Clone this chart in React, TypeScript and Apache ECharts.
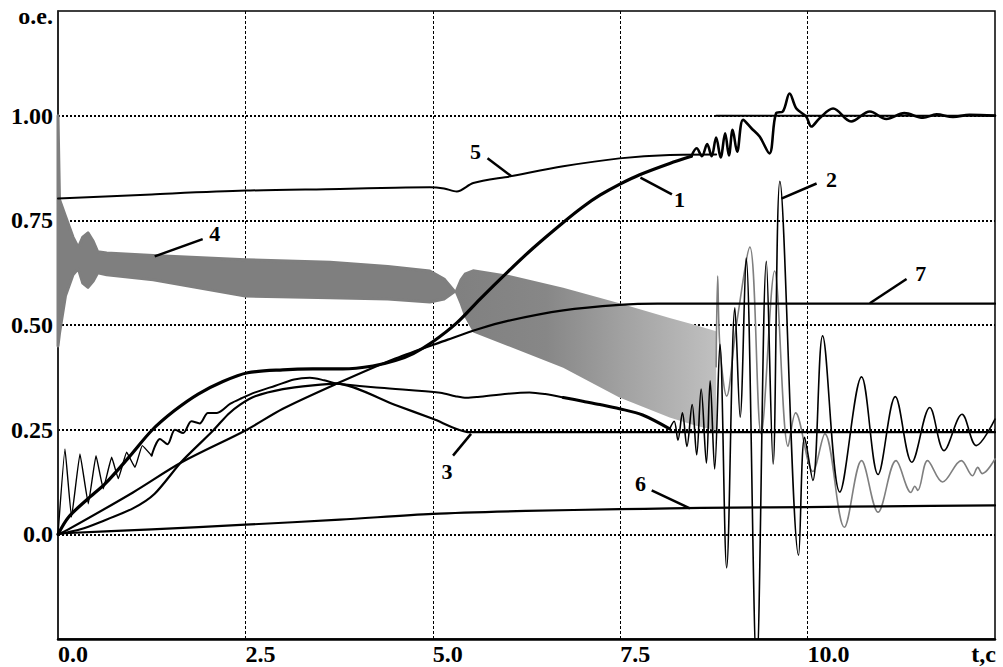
import React, { useEffect, useRef } from 'react';
import * as echarts from 'echarts';

type P = [number, number | null];

// ---- Curve 1 (thick black) ----
const curve1: P[] = [
  [0, 0], [0.14, 0.041], [0.4, 0.085], [0.63, 0.121], [0.95, 0.185], [1.25, 0.248], [1.55, 0.295],
  [1.87, 0.335], [2.2, 0.365], [2.53, 0.386], [3.0, 0.393], [3.4, 0.395], [3.8, 0.395], [4.2, 0.402],
  [4.5, 0.415], [4.74, 0.432], [5.0, 0.46], [5.32, 0.505], [5.63, 0.562], [6.0, 0.627], [6.34, 0.684],
  [6.74, 0.745], [7.0, 0.782], [7.23, 0.81], [7.49, 0.836], [7.76, 0.859], [8.16, 0.886], [8.45, 0.903],
  [8.52, 0.922], [8.59, 0.903], [8.66, 0.932], [8.72, 0.903], [8.78, 0.948], [8.84, 0.9], [8.9, 0.958],
  [8.95, 0.905], [9.0, 0.966], [9.06, 0.914], [9.14, 0.99], [9.25, 0.97], [9.36, 0.95], [9.49, 0.91],
  [9.58, 1.006], [9.67, 1.01], [9.76, 1.053], [9.85, 1.017], [9.98, 0.998], [10.05, 0.974], [10.16, 0.994],
  [10.34, 1.017], [10.58, 0.986], [10.83, 1.01], [11.05, 0.992], [11.29, 1.006], [11.54, 0.995],
  [11.72, 1.003], [11.94, 0.997], [12.16, 1.002], [12.5, 1.0],
];

// ---- Curve 2 (thin black, oscillating) ----
const curve2: P[] = [
  [0, 0], [0.093, 0.204], [0.18, 0.041], [0.293, 0.192], [0.404, 0.073], [0.507, 0.188], [0.604, 0.109],
  [0.716, 0.184], [0.804, 0.133], [0.916, 0.196], [1.027, 0.16], [1.124, 0.212], [1.249, 0.188],
  [1.36, 0.228], [1.46, 0.215], [1.56, 0.25], [1.67, 0.242], [1.78, 0.27], [1.89, 0.265], [2.0, 0.29],
  [2.12, 0.29], [2.3, 0.312], [2.45, 0.325], [2.63, 0.339], [2.9, 0.355], [3.15, 0.37], [3.36, 0.374],
  [3.55, 0.368], [3.72, 0.36], [4.3, 0.35], [5.1, 0.338], [5.3, 0.33], [5.45, 0.326], [5.6, 0.328],
  [6.0, 0.336], [6.29, 0.339], [6.5, 0.335], [6.74, 0.327], [7.0, 0.318], [7.23, 0.31], [7.49, 0.3],
  [7.8, 0.285], [8.16, 0.252], [8.22, 0.27], [8.27, 0.225], [8.33, 0.29], [8.39, 0.21], [8.46, 0.31],
  [8.52, 0.19], [8.58, 0.347], [8.65, 0.17], [8.7, 0.367], [8.76, 0.156], [8.83, 0.454], [8.92, -0.08],
  [9.03, 0.541], [9.1, 0.28], [9.18, 0.66], [9.32, -0.32], [9.45, 0.652], [9.54, 0.168], [9.63, 0.843],
  [9.88, -0.05], [9.96, 0.232], [10.07, 0.129], [10.2, 0.474], [10.43, 0.101], [10.72, 0.376],
  [10.94, 0.143], [11.17, 0.329], [11.39, 0.172], [11.63, 0.303], [11.82, 0.2], [12.06, 0.287],
  [12.25, 0.212], [12.5, 0.275],
];

// ---- Curve 3 ----
const curve3: P[] = [
  [0, 0], [0.3, 0.012], [0.56, 0.029], [1.0, 0.062], [1.29, 0.097], [1.65, 0.174], [2.07, 0.248],
  [2.27, 0.287], [2.43, 0.31], [2.63, 0.33], [3.0, 0.347], [3.4, 0.356], [3.72, 0.36], [4.5, 0.309],
  [5.0, 0.276], [5.49, 0.244], [7.0, 0.244], [12.5, 0.244],
];

// ---- Curve 4 (grey) : envelope of the fast oscillation, then single trace ----
const band1T = [0, 0.02, 0.1, 0.2, 0.27, 0.33, 0.4, 0.47, 0.53, 0.65, 1.27, 2.5, 3.63, 4.4, 4.96, 5.15, 5.29];
const band1Upper = [1.0, 0.8, 0.76, 0.71, 0.685, 0.71, 0.72, 0.7, 0.675, 0.672, 0.666, 0.656, 0.65, 0.64, 0.629, 0.61, 0.58];
const band1Lower = [0.45, 0.48, 0.57, 0.62, 0.635, 0.6, 0.59, 0.605, 0.625, 0.62, 0.608, 0.569, 0.565, 0.562, 0.555, 0.562, 0.58];

const band2T = [5.29, 5.36, 5.42, 5.54, 6.0, 6.74, 7.49, 8.16, 8.5, 8.78];
const band2Upper = [0.58, 0.61, 0.625, 0.633, 0.62, 0.589, 0.552, 0.517, 0.5, 0.485];
const band2Lower = [0.58, 0.55, 0.52, 0.482, 0.45, 0.398, 0.327, 0.279, 0.26, 0.248];

const curve4Tail: P[] = [
  [8.78, 0.4], [8.8, 0.617], [8.83, 0.45], [8.92, 0.33], [9.05, 0.5], [9.23, 0.686], [9.38, 0.24],
  [9.56, 0.629], [9.74, 0.21], [9.84, 0.29], [10.07, 0.15], [10.23, 0.24], [10.49, 0.017], [10.72, 0.176],
  [10.94, 0.053], [11.18, 0.176], [11.38, 0.1], [11.43, 0.115], [11.47, 0.105], [11.6, 0.176],
  [11.8, 0.125], [12.05, 0.176], [12.2, 0.14], [12.27, 0.16], [12.33, 0.145], [12.5, 0.18],
];

// ---- Curve 5 ----
const curve5: P[] = [
  [0, 0.802], [1.25, 0.812], [2.5, 0.821], [3.76, 0.825], [4.5, 0.828], [4.96, 0.829], [5.15, 0.826],
  [5.32, 0.819], [5.54, 0.839], [6.03, 0.855], [6.74, 0.879], [7.49, 0.898], [8.16, 0.906], [8.78, 0.907],
  [8.78, null], [8.78, 1.0], [12.5, 1.0],
];

// ---- Curve 6 ----
const curve6: P[] = [
  [0, 0.002], [1.25, 0.012], [2.5, 0.023], [3.76, 0.035], [5.0, 0.049], [6.25, 0.056], [7.5, 0.06],
  [8.16, 0.062], [9.0, 0.064], [10.0, 0.065], [11.0, 0.067], [12.5, 0.069],
];

// ---- Curve 7 ----
const curve7: P[] = [
  [0, 0], [0.12, 0.01], [1.0, 0.1], [1.65, 0.172], [2.5, 0.248], [3.0, 0.3], [3.72, 0.36], [4.5, 0.42],
  [5.2, 0.465], [5.6, 0.49], [6.0, 0.51], [6.74, 0.535], [7.49, 0.548], [8.0, 0.551], [12.5, 0.551],
];

// ---- Curve labels and their leader lines (data coordinates) ----
const labelNames = ['1', '2', '3', '4', '5', '6', '7'];
const labelPos: [number, number][] = [[8.29, 0.8], [10.32, 0.848], [5.19, 0.15], [2.09, 0.719], [5.57, 0.914], [7.77, 0.121], [11.51, 0.624]];
const pointerFrom: [number, number][] = [[7.77, 0.852], [9.65, 0.802], [5.27, 0.188], [1.29, 0.664], [5.73, 0.898], [7.92, 0.105], [11.32, 0.61]];
const pointerTo: [number, number][] = [[8.19, 0.812], [10.12, 0.838], [5.51, 0.24], [1.93, 0.705], [6.05, 0.855], [8.43, 0.062], [10.83, 0.552]];

const FONT = '"Liberation Serif", "Times New Roman", serif';
const GREY = '#7f7f7f';

function seg(data: P[], t0: number, t1: number): P[] {
  return data.filter(([t]) => t >= t0 - 1e-9 && t <= t1 + 1e-9);
}

function line(data: P[], width: number, color = '#000', smooth: number = 0.3, z = 3) {
  return {
    type: 'line',
    data,
    symbol: 'none',
    smooth,
    connectNulls: false,
    silent: true,
    z,
    lineStyle: { color, width, cap: 'round', join: 'round' },
  };
}

// band of the fast grey oscillation: polygon between upper and lower envelope
function band(t: number[], up: number[], lo: number[], fill: any, edge: number) {
  return {
    type: 'custom',
    silent: true,
    z: 1,
    data: t.map((x, i) => [x, up[i], lo[i]]),
    encode: { x: 0, y: [1, 2] },
    renderItem: (params: any, api: any) => {
      if (params.dataIndex !== 0) return null;
      const pts: number[][] = [];
      for (let i = 0; i < t.length; i++) pts.push(api.coord([t[i], up[i]]));
      for (let i = t.length - 1; i >= 0; i--) pts.push(api.coord([t[i], lo[i]]));
      return {
        type: 'polygon',
        shape: { points: pts },
        style: edge > 0 ? { fill, stroke: fill, lineWidth: edge, lineJoin: 'round' } : { fill, stroke: null },
      };
    },
  };
}

export default function App() {
  const ref = useRef<HTMLDivElement>(null);
  useEffect(() => {
    if (!ref.current) return;
    const chart = echarts.init(ref.current, null, { renderer: 'svg' });
    const labelStyle = { color: '#000', fontFamily: FONT, fontWeight: 'bold' as const, fontSize: 24 };
    const band2Fill = new echarts.graphic.LinearGradient(0, 0, 1, 0, [
      { offset: 0, color: '#808080' },
      { offset: 0.35, color: '#878787' },
      { offset: 0.65, color: '#a2a2a2' },
      { offset: 1, color: '#c0c0c0' },
    ]);
    const option: any = {
      animation: false,
      grid: { left: 58, right: 8, top: 11, bottom: 28, show: true, borderColor: '#000', borderWidth: 1.5, backgroundColor: 'transparent' },
      xAxis: {
        type: 'value', min: 0, max: 12.5, interval: 2.5,
        axisLine: { show: true, onZero: false, lineStyle: { color: '#000', width: 2.5 } },
        axisTick: { show: false },
        splitLine: { show: true, showMinLine: false, showMaxLine: false, lineStyle: { color: '#000', width: 1, type: [3, 2] } },
        axisLabel: {
          ...labelStyle, align: 'left', verticalAlign: 'middle', margin: 15,
          formatter: (v: number) => (Math.abs(v - 12.5) < 1e-6 ? '' : v.toFixed(1)),
        },
      },
      yAxis: {
        type: 'value', min: -0.25, max: 1.25, interval: 0.25,
        axisLine: { show: true, onZero: false, lineStyle: { color: '#222', width: 1.5 } },
        axisTick: { show: false },
        splitLine: { show: true, showMinLine: false, showMaxLine: false, lineStyle: { color: '#000', width: 2, type: [2, 2] } },
        axisLabel: {
          ...labelStyle, margin: 5,
          formatter: (v: number) => {
            if (Math.abs(v - 1.25) < 1e-6 || Math.abs(v + 0.25) < 1e-6) return '';
            if (Math.abs(v) < 1e-9) return '0.0';
            return v.toFixed(2);
          },
        },
      },
      series: [
        band(band1T, band1Upper, band1Lower, GREY, 3),
        band(band2T, band2Upper, band2Lower, band2Fill, 0),
        line(curve4Tail, 1.6, GREY, 0.35, 2),
        line(curve6, 2.2, '#000', 0.3),
        line(curve7, 2.2, '#000', 0.3),
        line(curve3, 2.2, '#000', 0.25),
        line(curve5, 2.0, '#000', 0.3),
        line(seg(curve2, 0, 1.249), 1.4, '#000', 0.1),
        line(seg(curve2, 1.249, 6.74), 2.0, '#000', 0.3),
        line(seg(curve2, 6.74, 8.16), 3.0, '#000', 0.3),
        line(seg(curve2, 8.16, 12.5), 1.6, '#000', 0.35),
        line(seg(curve1, 0, 8.45), 3.2, '#000', 0.3),
        line(seg(curve1, 8.45, 12.5), 2.6, '#000', 0.35),
      ],
    };
    chart.setOption(option);

    const gfx: any[] = [];
    labelNames.forEach((n, i) => {
      const a = chart.convertToPixel({ gridIndex: 0 }, pointerFrom[i]) as number[];
      const b = chart.convertToPixel({ gridIndex: 0 }, pointerTo[i]) as number[];
      const c = chart.convertToPixel({ gridIndex: 0 }, labelPos[i]) as number[];
      gfx.push({ type: 'line', z: 50, silent: true, shape: { x1: a[0], y1: a[1], x2: b[0], y2: b[1] }, style: { stroke: '#000', lineWidth: 2.5 } });
      gfx.push({ type: 'text', z: 50, silent: true, x: c[0], y: c[1], style: { text: n, fill: '#000', font: `bold 22px ${FONT}`, align: 'center', verticalAlign: 'middle' } });
    });
    gfx.push({ type: 'text', z: 50, silent: true, x: 53, y: 16, style: { text: 'o.e.', fill: '#000', font: `bold 24px ${FONT}`, align: 'right', verticalAlign: 'middle' } });
    gfx.push({ type: 'text', z: 50, silent: true, x: 996, y: 654, style: { text: 't,c', fill: '#000', font: `bold 24px ${FONT}`, align: 'right', verticalAlign: 'middle' } });
    chart.setOption({ graphic: gfx });

    return () => chart.dispose();
  }, []);
  return <div ref={ref} style={{ position: 'fixed', left: 0, top: 0, width: 1003, height: 667, background: '#fff' }} />;
}
